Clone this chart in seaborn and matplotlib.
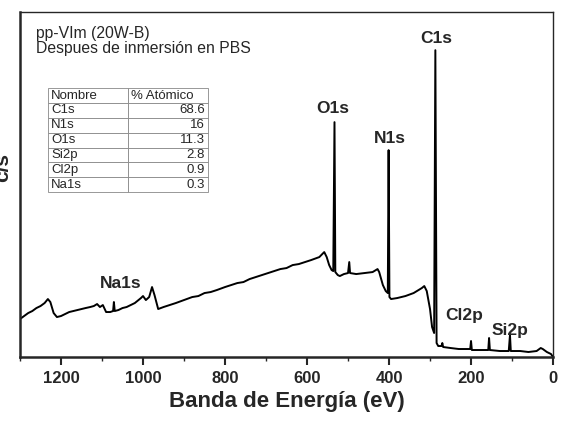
import numpy as np
import pandas as pd
import seaborn as sns
import matplotlib.pyplot as plt
from matplotlib.ticker import MultipleLocator

# survey spectrum (binding energy in eV, counts in a.u.)
energy = [1300, 1290, 1280, 1270, 1260, 1250, 1240, 1232, 1226, 1218, 1210, 1200,
          1190, 1180, 1170, 1160, 1150, 1140, 1129, 1120, 1112, 1105, 1098, 1090,
          1080, 1073, 1071, 1069, 1060, 1050, 1040, 1030, 1020, 1005, 1000, 993,
          985, 978, 972, 963, 950, 935, 920, 900, 880, 865, 850, 835, 820, 800,
          785, 770, 755, 740, 725, 710, 695, 680, 665, 650, 635, 620, 605, 590,
          570, 558, 552, 546, 540, 536, 533, 531, 525, 520, 510, 500, 497, 495,
          480, 460, 440, 428, 424, 415, 408, 403, 401, 399, 395, 380, 360, 340,
          320, 314, 308, 300, 295, 290, 287, 284, 280, 272, 270, 268, 250, 230,
          202, 200, 198, 180, 170, 158, 156, 154, 130, 108, 105, 103, 80, 60,
          40, 30, 25, 15, 5, 0]
counts = [38, 41, 44, 46, 49, 51, 54, 58, 55, 44, 40, 41,
          43, 45, 46, 47, 48, 49, 50, 51, 53, 50, 52, 45,
          45, 46, 55, 46, 47, 49, 50, 52, 54, 59, 61, 57,
          60, 70, 62, 48, 50, 52, 54, 57, 60, 61, 64, 65, 67, 70,
          72, 74, 75, 78, 80, 82, 84, 86, 88, 89, 92, 93, 95, 97,
          100, 105, 100, 92, 87, 86, 235, 85, 82, 81, 83, 84, 95, 84,
          83, 84, 85, 88, 85, 72, 66, 64, 207, 60, 58, 59, 61, 64,
          69, 71, 66, 48, 30, 24, 307, 14, 11, 11, 14, 10, 9, 8,
          8, 16, 7, 7, 7, 7, 19, 7, 6, 6, 22, 6, 6, 5,
          6, 9, 8, 5, 3, 0]

peak_names = ['C1s', 'O1s', 'N1s', 'Na1s', 'Cl2p', 'Si2p']
peak_label_x = [285, 537, 398, 1054, 217, 105]
peak_label_y = [311, 241, 211, 66, 34, 19]

table_names = ['C1s', 'N1s', 'O1s', 'Si2p', 'Cl2p', 'Na1s']
table_pct = ['68.6', '16', '11.3', '2.8', '0.9', '0.3']

sns.set_style('ticks')
plt.rcParams['font.family'] = ['Liberation Sans', 'DejaVu Sans']

df = pd.DataFrame({'energy': energy, 'counts': counts})

fig = plt.figure(figsize=(5.8, 4.21), dpi=100)
ax = fig.add_axes([0.0345, 0.152, 0.919, 0.819])
sns.lineplot(data=df, x='energy', y='counts', color='black', lw=1.4,
             estimator=None, ax=ax)

ax.set_xlim(1300, 0)
ax.set_ylim(0, 345)
ax.xaxis.set_major_locator(MultipleLocator(200))
ax.xaxis.set_minor_locator(MultipleLocator(100))
ax.set_yticks([])
ax.tick_params(axis='x', which='major', direction='out', length=6, width=1.5,
               labelsize=12, pad=4)
ax.tick_params(axis='x', which='minor', direction='out', length=3, width=1)
for lab in ax.get_xticklabels():
    lab.set_fontweight('bold')
for side in ['left', 'bottom']:
    ax.spines[side].set_linewidth(1.8)
for side in ['top', 'right']:
    ax.spines[side].set_linewidth(1.0)

ax.set_xlabel('Banda de Energía (eV)', fontsize=16, fontweight='bold', labelpad=4)
ax.set_ylabel('c/s', fontsize=15, fontweight='bold')
ax.yaxis.set_label_coords(-0.014, 0.55)

for name, px, py in zip(peak_names, peak_label_x, peak_label_y):
    ax.text(px, py, name, ha='center', va='bottom', fontsize=12.5, fontweight='bold')

ax.text(0.03, 0.96, 'pp-VIm (20W-B)\nDespues de inmersión en PBS',
        transform=ax.transAxes, ha='left', va='top', fontsize=11.3, linespacing=1.0)

cells = [[n, v] for n, v in zip(table_names, table_pct)]
tab = ax.table(cellText=cells, colLabels=['Nombre', '% Atómico'],
               bbox=[0.0525, 0.478, 0.30, 0.302], cellLoc='left', colLoc='left')
tab.auto_set_font_size(False)
tab.set_fontsize(9.5)
for (r, c), cell in tab.get_celld().items():
    cell.set_edgecolor('#888888')
    cell.set_linewidth(0.6)
    cell.PAD = 0.04
    if r > 0 and c == 1:
        cell.get_text().set_ha('right')
        cell._loc = 'right'

fig.savefig('out.png', dpi=100)
